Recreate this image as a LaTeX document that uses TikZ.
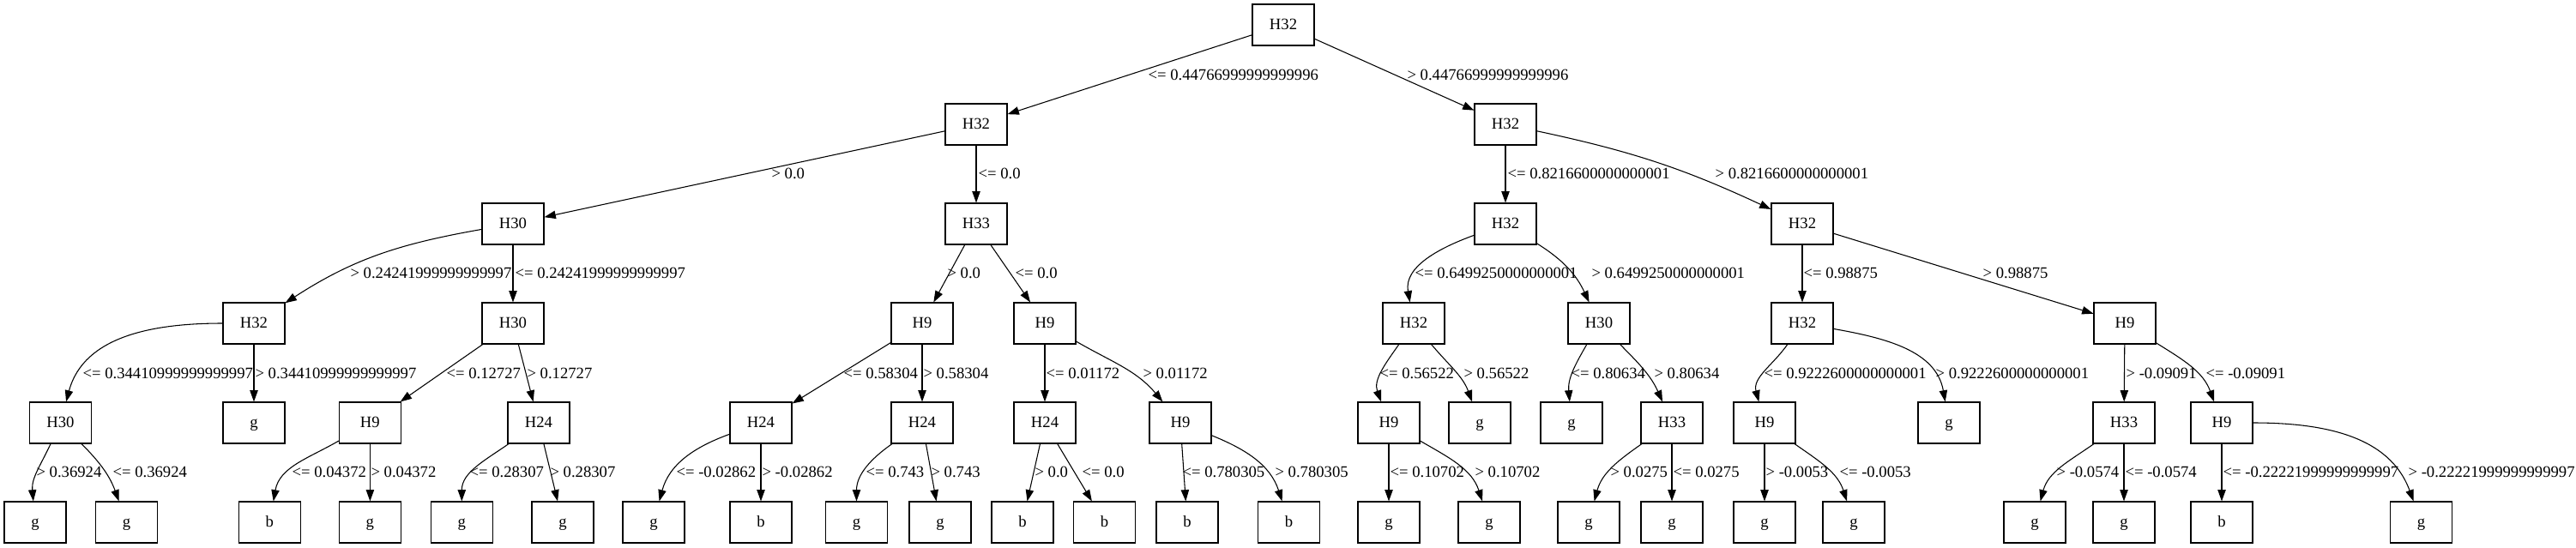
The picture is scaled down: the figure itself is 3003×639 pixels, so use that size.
\documentclass[tikz,border=0pt]{standalone}
\usepackage{fontspec}
\setmainfont{Liberation Serif}
\usepackage{tikz}
\usetikzlibrary{arrows.meta}

\begin{document}
\begin{tikzpicture}[x=0.75pt, y=0.75pt, font=\fontsize{14}{16}\selectfont,
	feat/.style={draw, line width=0.8pt, minimum width=54pt, minimum height=36pt, inner sep=0pt, text height=8pt, text depth=0pt},
	cond/.style={anchor=west, inner sep=0pt, text height=9pt, text depth=0pt},
	branch/.style={draw, line width=0.8pt, -{Triangle[length=10pt, width=7pt]}}]
  \useasboundingbox (0,0) rectangle (3003,-639);

  \node[feat] (n) at (1496,-29) {H32};

  \node[feat] (n0) at (1138,-145) {H32};
  \node[feat] (n1) at (1755,-145) {H32};

  \node[feat] (n00) at (598,-261) {H30};
  \node[feat] (n01) at (1138,-261) {H33};
  \node[feat] (n10) at (1755,-261) {H32};
  \node[feat] (n11) at (2101,-261) {H32};

  \node[feat] (n000) at (296,-377) {H32};
  \node[feat] (n001) at (598,-377) {H30};
  \node[feat] (n010) at (1075,-377) {H9};
  \node[feat] (n011) at (1218,-377) {H9};
  \node[feat] (n100) at (1648,-377) {H32};
  \node[feat] (n101) at (1864,-377) {H30};
  \node[feat] (n110) at (2101,-377) {H32};
  \node[feat] (n111) at (2477,-377) {H9};

  \node[feat] (n0000) at (70.5,-493) {H30};
  \node[feat] (n0001) at (296,-493) {g};
  \node[feat] (n0010) at (431.4,-493) {H9};
  \node[feat] (n0011) at (628,-493) {H24};
  \node[feat] (n0100) at (887,-493) {H24};
  \node[feat] (n0101) at (1075,-493) {H24};
  \node[feat] (n0110) at (1218,-493) {H24};
  \node[feat] (n0111) at (1376,-493) {H9};
  \node[feat] (n1000) at (1619,-493) {H9};
  \node[feat] (n1001) at (1725,-493) {g};
  \node[feat] (n1010) at (1832,-493) {g};
  \node[feat] (n1011) at (1949,-493) {H33};
  \node[feat] (n1100) at (2057,-493) {H9};
  \node[feat] (n1101) at (2272,-493) {g};
  \node[feat] (n1110) at (2476,-493) {H33};
  \node[feat] (n1111) at (2590,-493) {H9};

  \node[feat] (n00000) at (41,-609) {g};
  \node[feat] (n00001) at (147.6,-609) {g};
  \node[feat] (n00100) at (314.4,-609) {b};
  \node[feat] (n00101) at (431.4,-609) {g};
  \node[feat] (n00110) at (538.3,-609) {g};
  \node[feat] (n00111) at (656,-609) {g};
  \node[feat] (n01000) at (762,-609) {g};
  \node[feat] (n01001) at (887,-609) {b};
  \node[feat] (n01010) at (998.5,-609) {g};
  \node[feat] (n01011) at (1096,-609) {g};
  \node[feat] (n01100) at (1192,-609) {b};
  \node[feat] (n01101) at (1287.6,-609) {b};
  \node[feat] (n01110) at (1384,-609) {b};
  \node[feat] (n01111) at (1502.6,-609) {b};
  \node[feat] (n10000) at (1619,-609) {g};
  \node[feat] (n10001) at (1736,-609) {g};
  \node[feat] (n10110) at (1852,-609) {g};
  \node[feat] (n10111) at (1949,-609) {g};
  \node[feat] (n11000) at (2057,-609) {g};
  \node[feat] (n11001) at (2161,-609) {g};
  \node[feat] (n11100) at (2372,-609) {g};
  \node[feat] (n11101) at (2476,-609) {g};
  \node[feat] (n11110) at (2590,-609) {b};
  \node[feat] (n11111) at (2822.5,-609) {g};

  \draw[branch] (n) -- (n0) node[cond] at (1338,-87) {<= 0.44766999999999996};
  \draw[branch] (n) -- (n1) node[cond] at (1640,-87) {> 0.44766999999999996};

  \draw[branch] (n0) -- (n00) node[cond] at (899,-202) {> 0.0};
  \draw[branch] (n0) -- (n01) node[cond] at (1140,-202) {<= 0.0};
  \draw[branch] (n1) -- (n10) node[cond] at (1757,-202) {<= 0.8216600000000001};
  \draw[branch] (n1) to[out=-12, in=155] (n11) node[cond] at (1999,-202) {> 0.8216600000000001};

  \draw[branch] (n00) to[out=190, in=33] (n000) node[cond] at (408,-318) {> 0.24241999999999997};
  \draw[branch] (n00) -- (n001) node[cond] at (600,-318) {<= 0.24241999999999997};
  \draw[branch] (n01) -- (n010) node[cond] at (1104,-318) {> 0.0};
  \draw[branch] (n01) -- (n011) node[cond] at (1183,-318) {<= 0.0};
  \draw[branch] (n10) to[out=200, in=100] (n100) node[cond] at (1649,-318) {<= 0.6499250000000001};
  \draw[branch] (n10) to[out=-32, in=115] (n101) node[cond] at (1855,-318) {> 0.6499250000000001};
  \draw[branch] (n11) -- (n110) node[cond] at (2102,-318) {<= 0.98875};
  \draw[branch] (n11) -- (n111) node[cond] at (2311,-318) {> 0.98875};

  \draw[branch] (n000) to[out=180, in=75] (n0000) node[cond] at (96,-435) {<= 0.34410999999999997};
  \draw[branch] (n000) -- (n0001) node[cond] at (297,-435) {> 0.34410999999999997};
  \draw[branch] (n001) -- (n0010) node[cond] at (520,-435) {<= 0.12727};
  \draw[branch] (n001) -- (n0011) node[cond] at (614,-435) {> 0.12727};
  \draw[branch] (n010) -- (n0100) node[cond] at (983,-435) {<= 0.58304};
  \draw[branch] (n010) -- (n0101) node[cond] at (1076,-435) {> 0.58304};
  \draw[branch] (n011) -- (n0110) node[cond] at (1219,-435) {<= 0.01172};
  \draw[branch] (n011) to[out=-30, in=130] (n0111) node[cond] at (1332,-435) {> 0.01172};
  \draw[branch] (n100) to[out=235, in=110] (n1000) node[cond] at (1608,-435) {<= 0.56522};
  \draw[branch] (n100) to[out=-50, in=110] (n1001) node[cond] at (1706,-435) {> 0.56522};
  \draw[branch] (n101) to[out=240, in=95] (n1010) node[cond] at (1831,-435) {<= 0.80634};
  \draw[branch] (n101) to[out=-45, in=114] (n1011) node[cond] at (1928,-435) {> 0.80634};
  \draw[branch] (n110) to[out=235, in=105] (n1100) node[cond] at (2056,-435) {<= 0.9222600000000001};
  \draw[branch] (n110) to[out=-10, in=100] (n1101) node[cond] at (2256,-435) {> 0.9222600000000001};
  \draw[branch] (n111) -- (n1110) node[cond] at (2478,-435) {> -0.09091};
  \draw[branch] (n111) to[out=-32, in=110] (n1111) node[cond] at (2571,-435) {<= -0.09091};

  \draw[branch] (n0000) to[out=245, in=95] (n00000) node[cond] at (42,-550) {> 0.36924};
  \draw[branch] (n0000) to[out=-45, in=110] (n00001) node[cond] at (131,-550) {<= 0.36924};
  \draw[branch] (n0010) to[out=210, in=80] (n00100) node[cond] at (340,-550) {<= 0.04372};
  \draw[branch] (n0010) -- (n00101) node[cond] at (432,-550) {> 0.04372};
  \draw[branch] (n0011) to[out=215, in=90] (n00110) node[cond] at (547,-550) {<= 0.28307};
  \draw[branch] (n0011) -- (n00111) node[cond] at (641,-550) {> 0.28307};
  \draw[branch] (n0100) to[out=200, in=75] (n01000) node[cond] at (788,-550) {<= -0.02862};
  \draw[branch] (n0100) -- (n01001) node[cond] at (888,-550) {> -0.02862};
  \draw[branch] (n0101) to[out=215, in=90] (n01010) node[cond] at (1009,-550) {<= 0.743};
  \draw[branch] (n0101) -- (n01011) node[cond] at (1085,-550) {> 0.743};
  \draw[branch] (n0110) -- (n01100) node[cond] at (1206,-550) {> 0.0};
  \draw[branch] (n0110) -- (n01101) node[cond] at (1261,-550) {<= 0.0};
  \draw[branch] (n0111) -- (n01110) node[cond] at (1378,-550) {<= 0.780305};
  \draw[branch] (n0111) to[out=-22, in=108] (n01111) node[cond] at (1486,-550) {> 0.780305};
  \draw[branch] (n1000) -- (n10000) node[cond] at (1620,-550) {<= 0.10702};
  \draw[branch] (n1000) to[out=-30, in=108] (n10001) node[cond] at (1719,-550) {> 0.10702};
  \draw[branch] (n1011) to[out=215, in=75] (n10110) node[cond] at (1877,-550) {> 0.0275};
  \draw[branch] (n1011) -- (n10111) node[cond] at (1950,-550) {<= 0.0275};
  \draw[branch] (n1100) -- (n11000) node[cond] at (2058,-550) {> -0.0053};
  \draw[branch] (n1100) to[out=-35, in=108] (n11001) node[cond] at (2144,-550) {<= -0.0053};
  \draw[branch] (n1110) to[out=215, in=75] (n11100) node[cond] at (2397,-550) {> -0.0574};
  \draw[branch] (n1110) -- (n11101) node[cond] at (2477,-550) {<= -0.0574};
  \draw[branch] (n1111) -- (n11110) node[cond] at (2591,-550) {<= -0.22221999999999997};
  \draw[branch] (n1111) to[out=0, in=110] (n11111) node[cond] at (2807,-550) {> -0.22221999999999997};
\end{tikzpicture}
\end{document}
